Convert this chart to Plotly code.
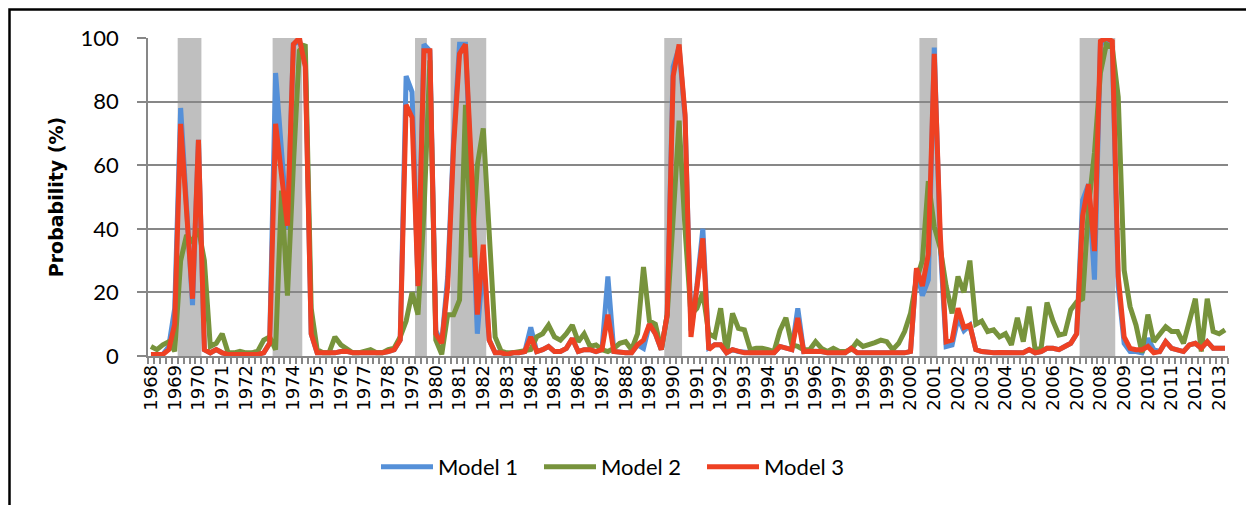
import plotly.graph_objects as go

# ---- data (quarterly, 1968Q1 .. 2013Q2) ----
years = list(range(1968, 2014))
quarters = [f"{y}Q{q}" for y in years for q in (1, 2, 3, 4)][:182]

model1 = [
    0.5, 0.5, 0.5, 3, 15, 78, 47, 16, 68, 2,
    1, 2, 1, 0.5, 0.5, 0.5, 0.5, 0.5, 0.5, 1,
    4, 89, 66, 40, 98, 99, 94, 7, 1, 1,
    1, 1, 1.4, 1.5, 1, 1, 1, 1.2, 1, 1,
    1.4, 2, 5, 88, 83, 22, 98, 96, 8, 4,
    25, 68, 98, 98, 55, 7, 30, 5, 1, 1,
    0.5, 1, 1, 1.4, 9, 1.4, 2, 3, 1.4, 1.4,
    2.4, 5.5, 1.4, 2, 2, 1.4, 2, 25, 1.4, 1,
    1, 1, 3.5, 2.4, 10, 7, 2, 13, 91, 97,
    75, 8, 22, 40, 2.5, 3.5, 3.5, 1, 2, 1.4,
    1, 1, 1, 1, 1, 1, 3, 2.4, 2, 15,
    1.4, 1.5, 1.6, 1.4, 1, 1, 1, 1, 2.4, 1,
    1, 1, 1, 1, 1, 1, 1, 1, 1.4, 27,
    19, 24, 97, 35, 3, 3.5, 12, 8, 9.7, 2,
    1.4, 1, 1, 1.1, 1.1, 1.1, 1.1, 1, 2, 1,
    1.4, 2.4, 2.4, 2, 3, 4, 7, 49, 54, 24,
    98, 99, 97, 22, 4, 1.4, 1.4, 1, 5.5, 2,
    1.4, 4.5, 2.4, 2, 1.4, 3.5, 4, 2.4, 4.5, 2.4,
    2.4, 2.4,
]

model2 = [
    3, 2, 3.5, 4.5, 1.5, 30, 38, 36, 40, 30,
    3, 4, 7, 1, 1, 1.5, 1, 1, 1.5, 5,
    6, 2, 52, 19, 60, 96, 98, 15, 2, 1,
    1, 6, 3.5, 2, 1, 1, 1.4, 2, 1, 1,
    2, 2.5, 6, 11, 20, 13, 45, 93, 5, 0.5,
    13, 13, 17.6, 79, 31, 60, 71.6, 40, 6, 1.5,
    1, 1, 1.4, 2, 2, 6, 7, 9.7, 6, 5,
    7, 9.7, 4.5, 7, 3, 3.5, 2, 1.4, 2.4, 4,
    4.5, 2, 7, 28, 11, 10, 2, 13, 47, 74,
    40, 13, 15, 20, 7, 6, 15, 1, 13.4, 8.7,
    8.2, 2, 2.4, 2.4, 2, 1.4, 8, 12, 3.5, 3,
    2, 2, 4.5, 2.4, 1.4, 2.4, 1.4, 1.4, 2, 4.5,
    3, 3.5, 4.2, 5, 4.5, 2, 4, 7.7, 13.4, 24,
    30, 55, 40.7, 34, 22, 13.4, 25, 20, 30, 10,
    11, 7.7, 8.2, 6, 7, 3.5, 12, 4.5, 15.5, 2,
    2.4, 16.8, 11, 6.6, 7, 14.5, 17, 18, 47, 64,
    89, 98, 97, 81.5, 27, 15.5, 9.7, 1, 13, 4.5,
    6.6, 9.2, 7.7, 7.7, 4, 10.8, 18, 1.4, 18, 7.7,
    7, 8.2,
]

model3 = [
    0.5, 0.5, 0.5, 2, 10, 73, 45, 18, 68, 2,
    1, 2, 1, 0.5, 0.5, 0.5, 0.5, 0.5, 0.5, 1,
    4, 73, 58, 41, 98, 100, 91, 7, 1, 1,
    1, 1, 1.4, 1.5, 1, 1, 1, 1.2, 1, 1,
    1.4, 2, 5, 79, 75, 22, 96, 96, 7, 4,
    22, 66, 95, 98, 60, 13, 35, 5, 1, 1,
    0.5, 1, 1, 1.4, 6, 1.4, 2, 3, 1.4, 1.4,
    2.4, 5.5, 1.4, 2, 2, 1.4, 2, 13, 1.4, 1,
    1, 1, 3.5, 5, 10, 7, 2, 13, 88, 98,
    76, 6, 22, 37, 2, 3.5, 3.5, 1, 2, 1.4,
    1, 1, 1, 1, 1, 1, 3, 2.4, 2, 12,
    1.4, 1.5, 1.6, 1.4, 1, 1, 1, 1, 2.4, 1,
    1, 1, 1, 1, 1, 1, 1, 1, 1.4, 27.6,
    22, 32, 95, 38.6, 4.5, 5, 15, 9, 9.7, 2,
    1.4, 1, 1, 1.1, 1.1, 1.1, 1.1, 1, 2, 1,
    1.4, 2.4, 2.4, 2, 3, 4, 7, 44, 54, 33,
    99, 100, 99, 25, 6, 2.4, 2, 2, 3, 1,
    1.4, 4.5, 2.4, 2, 1.4, 3.5, 4, 2.4, 4.5, 2.4,
    2.4, 2.4,
]

recession_start = ["1969Q2", "1973Q2", "1979Q2", "1980Q4", "1989Q4", "2000Q3", "2007Q2"]
recession_end = ["1970Q1", "1974Q2", "1979Q3", "1982Q1", "1990Q2", "2001Q1", "2008Q3"]

series_names = ["Model 1", "Model 2", "Model 3"]
series_colors = ["#5590D8", "#77933C", "#EE4123"]

tick_text = [q[:4] if q.endswith("Q1") else "" for q in quarters]

# ---- figure ----
fig = go.Figure()
for name, vals, col in zip(series_names, [model1, model2, model3], series_colors):
    fig.add_trace(go.Scatter(
        x=quarters, y=vals, mode="lines", name=name,
        line=dict(color=col, width=5),
    ))

shapes = []
for s, e in zip(recession_start, recession_end):
    shapes.append(dict(
        type="rect", xref="x", yref="y",
        x0=quarters.index(s) - 0.5, x1=quarters.index(e) + 0.5,
        y0=0, y1=100, fillcolor="#BFBFBF", line=dict(width=0), layer="below",
    ))
# outer chart frame (only left/top visible in the crop)
shapes.append(dict(
    type="rect", xref="paper", yref="paper",
    x0=(1.5 - 140) / 1080, x1=1.3, y0=-1.0, y1=1 + 28.5 / 318,
    line=dict(color="black", width=2.5), fillcolor="rgba(0,0,0,0)", layer="above",
))

grid = "#878787"
fig.update_layout(
    width=1246, height=497,
    margin=dict(l=140, r=26, t=30, b=149),
    paper_bgcolor="white", plot_bgcolor="white",
    shapes=shapes,
    showlegend=True,
    legend=dict(
        orientation="h", x=(376 - 148) / 1080, xanchor="left",
        y=(356 - 467) / 318, yanchor="middle",
        font=dict(family="Lato", size=22, color="black"),
        itemwidth=52, entrywidth=96, traceorder="normal",
    ),
    xaxis=dict(
        type="category", tickmode="array", tickvals=quarters, ticktext=tick_text,
        tickson="boundaries", ticks="outside", ticklen=6, tickcolor=grid, tickwidth=1.5,
        tickangle=-90, tickfont=dict(family="DejaVu Sans", size=18, color="black"),
        showline=True, linecolor=grid, linewidth=1.5, showgrid=False,
        range=[-0.5, len(quarters) - 0.5],
    ),
    yaxis=dict(
        range=[0, 100], dtick=20, tick0=0,
        showgrid=True, gridcolor=grid, gridwidth=1.5,
        showline=True, linecolor=grid, linewidth=1.5,
        ticks="outside", ticklen=9, tickcolor=grid, tickwidth=1.5,
        ticklabelstandoff=14,
        tickfont=dict(family="Lato", size=22, color="black"),
        zeroline=False,
        title=dict(text="Probability (%)", standoff=12,
                   font=dict(family="DejaVu Sans", size=19, color="black", weight="bold")),
    ),
)

fig.write_html("out.html")
